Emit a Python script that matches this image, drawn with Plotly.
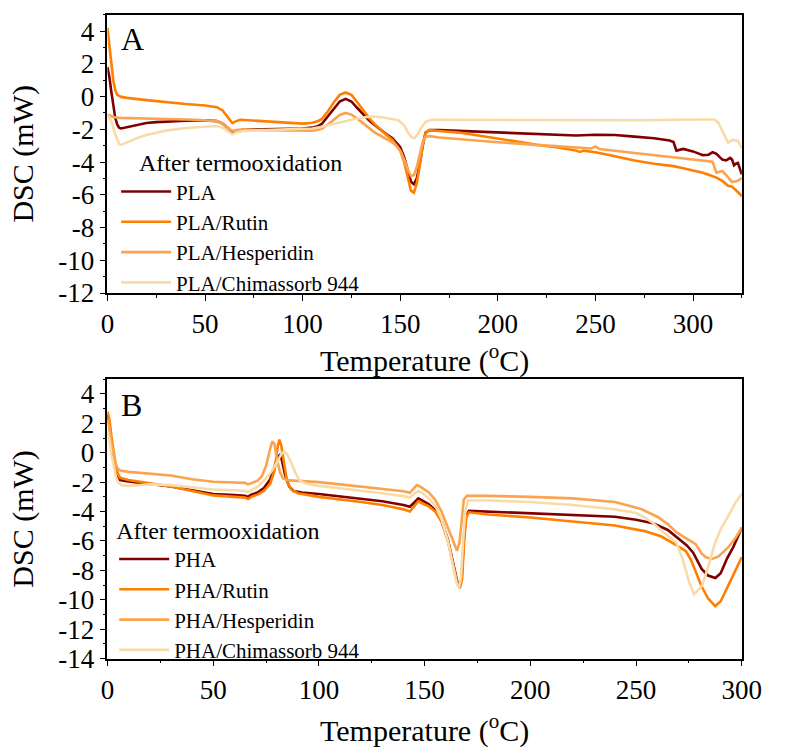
import plotly.graph_objects as go

# ---------------- Data (Temperature °C, DSC mW) ----------------
# Panel A (PLA)
PLA = [(0,1.8),(1,1.2),(2,0.3),(3,-0.6),(4,-1.3),(5,-1.7),(6,-1.9),(7,-1.95),(9,-1.9),(12,-1.8),
       (16,-1.7),(20,-1.62),(25,-1.56),(30,-1.52),(40,-1.48),(50,-1.45),(56,-1.5),(59,-1.65),(62,-1.95),
       (64,-2.22),(66,-2.15),(68,-2.05),(70,-2.0),(80,-2.0),(90,-1.98),(100,-1.95),(105,-1.9),(108,-1.8),
       (110,-1.65),(113,-1.2),(116,-0.7),(119,-0.3),(122,-0.14),(125,-0.3),(128,-0.7),(131,-1.1),
       (134,-1.45),(137,-1.75),(140,-2.05),(143,-2.3),(146,-2.55),(148,-2.8),(150,-3.1),(152,-3.7),
       (154,-4.6),(155.5,-5.2),(157,-5.35),(158.5,-5.0),(160,-4.1),(161.5,-3.0),(163,-2.2),(165,-2.05),
       (170,-2.05),(180,-2.1),(190,-2.15),(200,-2.2),(210,-2.25),(220,-2.3),(230,-2.35),(240,-2.38),
       (250,-2.33),(260,-2.35),(270,-2.45),(280,-2.55),(288,-2.68),(290,-2.78),(291.5,-3.3),(293,-3.25),
       (295,-3.2),(300,-3.35),(305,-3.58),(308,-3.55),(310,-3.4),(312,-3.5),(315,-3.85),(317,-3.9),
       (319,-3.75),(320,-3.85),(321,-4.2),(322,-4.1),(323,-4.05),(324,-4.4),(325,-4.75)]

PLA_RUTIN = [(0,4.2),(1,3.2),(2,2.0),(3,1.0),(4,0.4),(5,0.1),(7,-0.02),(10,-0.08),(20,-0.22),
             (30,-0.35),(40,-0.45),(50,-0.55),(56,-0.65),(59,-0.85),(62,-1.3),(64,-1.62),(66,-1.5),
             (68,-1.42),(72,-1.45),(80,-1.5),(90,-1.6),(100,-1.65),(105,-1.6),(108,-1.5),(110,-1.35),
             (113,-0.9),(116,-0.35),(119,0.1),(122,0.25),(125,0.1),(128,-0.35),(131,-0.85),(134,-1.3),
             (137,-1.7),(140,-2.05),(143,-2.35),(146,-2.65),(148,-2.95),(150,-3.3),(152,-4.0),(154,-5.1),
             (155.5,-5.75),(157,-5.87),(158.5,-5.3),(160,-4.2),(161.5,-3.0),(163,-2.2),(165,-2.05),
             (170,-2.1),(180,-2.2),(190,-2.38),(200,-2.55),(210,-2.75),(220,-2.95),(230,-3.1),
             (240,-3.3),(242,-3.38),(244,-3.3),(250,-3.4),(260,-3.65),(270,-3.9),(280,-4.1),(290,-4.25),
             (295,-4.38),(300,-4.5),(305,-4.65),(308,-4.78),(312,-4.95),(315,-5.15),(318,-5.45),
             (320,-5.5),(322,-5.7),(324,-5.95),(325,-6.1)]

PLA_HESP = [(0,-1.1),(3,-1.25),(6,-1.3),(15,-1.32),(30,-1.38),(45,-1.42),(56,-1.5),(59,-1.65),
            (62,-1.95),(64,-2.1),(66,-2.05),(70,-2.0),(80,-2.05),(90,-2.08),(100,-2.1),(105,-2.08),
            (108,-2.02),(110,-1.95),(113,-1.7),(116,-1.4),(119,-1.12),(122,-1.0),(125,-1.1),(128,-1.35),
            (131,-1.65),(134,-1.95),(137,-2.2),(140,-2.4),(143,-2.6),(146,-2.8),(148,-3.0),(150,-3.3),
            (152,-3.85),(154,-4.5),(155.5,-4.85),(157,-4.8),(158.5,-4.3),(160,-3.5),(161.5,-2.8),
            (163,-2.45),(165,-2.42),(170,-2.5),(180,-2.6),(190,-2.7),(200,-2.79),(220,-2.95),(240,-3.1),
            (248,-3.17),(250,-3.05),(252,-3.2),(270,-3.45),(288,-3.68),(300,-3.85),(310,-3.98),
            (312,-4.65),(315,-4.55),(317,-4.8),(320,-5.22),(323,-5.15),(325,-4.98)]

PLA_CHIM = [(0,-1.1),(2,-1.5),(4,-2.3),(6,-2.9),(7,-2.95),(9,-2.85),(12,-2.7),(16,-2.5),(20,-2.35),
            (25,-2.2),(30,-2.08),(40,-1.92),(50,-1.82),(56,-1.8),(59,-1.9),(62,-2.15),(64,-2.3),
            (66,-2.2),(70,-2.1),(80,-2.05),(90,-2.02),(100,-2.0),(105,-1.95),(110,-1.85),(115,-1.7),
            (120,-1.55),(125,-1.42),(130,-1.3),(135,-1.22),(140,-1.25),(145,-1.35),(149,-1.45),
            (152,-1.75),(154,-2.2),(156,-2.5),(157.5,-2.52),(159,-2.3),(161,-1.85),(163,-1.55),
            (166,-1.42),(175,-1.42),(200,-1.43),(225,-1.45),(250,-1.48),(275,-1.45),(300,-1.4),
            (311,-1.4),(313,-1.6),(315,-2.1),(317,-2.6),(318,-2.82),(320,-2.65),(323,-2.7),(325,-3.15)]

# Panel B (PHA)
PHA = [(0,2.6),(1,1.8),(2,0.6),(3,-0.4),(4,-1.1),(5,-1.6),(6,-1.85),(10,-1.95),(20,-2.1),(30,-2.3),
       (40,-2.55),(50,-2.8),(60,-2.88),(65,-2.92),(66.5,-3.0),(68,-2.85),(71,-2.7),(74,-2.4),(77,-1.8),
       (79,-1.0),(80.5,-0.3),(81.5,-0.15),(82.5,-0.5),(84,-1.5),(86,-2.3),(88,-2.6),(92,-2.7),
       (100,-2.8),(110,-2.95),(120,-3.1),(130,-3.3),(140,-3.55),(143,-3.67),(145,-3.4),(147,-3.1),
       (149,-3.25),(152,-3.5),(155,-3.9),(158,-4.6),(161,-5.9),(163.5,-7.5),(165.5,-8.8),(166.5,-9.1),
       (167.5,-8.5),(168.5,-6.0),(169.5,-4.3),(171,-3.95),(180,-4.0),(200,-4.15),(220,-4.25),
       (240,-4.35),(250,-4.55),(258,-4.8),(265,-5.25),(270,-5.8),(274,-6.3),(277,-6.8),(279,-7.3),
       (281,-7.9),(284,-8.35),(287.5,-8.52),(290,-8.2),(293,-7.2),(296,-6.4),(300,-5.1)]

PHA_RUTIN = [(0,2.8),(1,2.2),(2,1.0),(3,-0.1),(4,-0.9),(5,-1.45),(6,-1.7),(10,-1.85),(20,-2.05),
             (30,-2.3),(40,-2.6),(50,-2.9),(60,-3.0),(65,-3.05),(66.5,-3.15),(68,-3.0),(71,-2.85),
             (74,-2.6),(77,-2.1),(79,-1.2),(80.5,0.4),(81.3,0.9),(82.2,0.5),(83.5,-0.8),(85,-2.0),
             (87,-2.5),(90,-2.75),(100,-3.0),(110,-3.15),(120,-3.35),(130,-3.55),(140,-3.85),
             (143,-4.0),(145,-3.65),(147,-3.3),(149,-3.45),(152,-3.65),(155,-4.0),(158,-4.7),(161,-6.0),
             (163.5,-7.6),(165.5,-8.9),(166.7,-9.2),(167.7,-8.6),(168.7,-6.0),(169.7,-4.4),(171,-4.05),
             (180,-4.2),(200,-4.4),(220,-4.65),(240,-4.95),(254,-5.33),(262,-5.7),(268,-6.2),
             (273.6,-6.7),(276,-7.3),(278.2,-8.1),(281,-9.1),(284,-9.9),(287.4,-10.44),(290,-10.1),
             (293,-9.2),(296,-8.2),(300,-7.1)]

PHA_HESP = [(0,2.3),(1,1.6),(2,0.6),(3,-0.2),(4,-0.8),(5,-1.1),(6,-1.2),(10,-1.3),(20,-1.4),(30,-1.55),
            (40,-1.8),(50,-1.97),(60,-2.02),(65,-2.05),(66.5,-2.15),(68,-2.05),(71,-1.9),(73,-1.6),
            (75,-0.9),(77,0.3),(78,0.78),(79,0.6),(80,-0.3),(81.5,-1.3),(83,-1.75),(86,-1.88),(90,-1.9),
            (100,-2.0),(110,-2.15),(120,-2.3),(130,-2.45),(140,-2.62),(143,-2.72),(144.5,-2.45),
            (146.3,-2.2),(148.5,-2.35),(152,-2.7),(155,-3.2),(158,-4.0),(161,-5.1),(163.5,-6.1),
            (165.3,-6.67),(166.5,-6.1),(167.5,-4.5),(168.5,-3.2),(170,-2.93),(180,-2.93),(200,-3.0),
            (220,-3.1),(240,-3.35),(252,-3.8),(260,-4.35),(265,-4.85),(269,-5.4),(274,-5.85),
            (278.2,-6.22),(281,-6.85),(283,-7.11),(286,-7.22),(289,-7.05),(293.5,-6.44),(297,-5.8),
            (300,-5.1)]

PHA_CHIM = [(0,1.5),(1,0.8),(2,-0.2),(3,-1.0),(4,-1.6),(5,-2.0),(7,-2.22),(10,-2.25),(15,-2.2),
            (20,-2.15),(30,-2.2),(40,-2.35),(50,-2.5),(60,-2.55),(65,-2.58),(66.5,-2.68),(68,-2.55),
            (71,-2.3),(74,-1.9),(77,-1.4),(80,-0.7),(82,-0.15),(83.5,0.1),(85,-0.1),(87,-0.7),
            (89,-1.4),(91,-1.9),(94,-2.1),(100,-2.25),(110,-2.4),(120,-2.55),(130,-2.75),(140,-2.95),
            (143,-3.05),(145,-2.8),(147,-2.6),(149,-2.75),(152,-3.1),(155,-3.6),(158,-4.5),(161,-6.0),
            (163.5,-7.8),(165.2,-8.9),(166.2,-9.18),(167.2,-8.5),(168.2,-6.0),(169.2,-4.0),(170.5,-3.25),
            (180,-3.25),(200,-3.35),(220,-3.55),(240,-3.85),(250,-4.1),(254,-4.4),(258,-4.78),
            (263,-5.4),(269,-6.1),(272,-7.2),(275,-8.77),(277.4,-9.62),(279,-9.4),(281.3,-9.0),
            (284,-7.8),(287.4,-6.1),(290,-5.2),(293.5,-4.33),(297,-3.4),(300,-2.78)]

NAMES_A = ["PLA", "PLA/Rutin", "PLA/Hesperidin", "PLA/Chimassorb 944"]
NAMES_B = ["PHA", "PHA/Rutin", "PHA/Hesperidin", "PHA/Chimassorb 944"]
COLORS = ["#800000", "#ff7f00", "#fba44f", "#f8dba6"]
X_TICKS_A = [0, 50, 100, 150, 200, 250, 300]
X_TICKS_B = [0, 50, 100, 150, 200, 250, 300]
Y_TICKS_A = list(range(-12, 5, 2))
Y_TICKS_B = list(range(-14, 5, 2))

FONT = "Liberation Serif"

fig = go.Figure()

for name, data, col in zip(NAMES_A, [PLA, PLA_RUTIN, PLA_HESP, PLA_CHIM], COLORS):
    fig.add_trace(go.Scatter(x=[p[0] for p in data], y=[p[1] for p in data], mode="lines",
                             name=name, line=dict(color=col, width=2.6),
                             xaxis="x", yaxis="y", legend="legend"))
for name, data, col in zip(NAMES_B, [PHA, PHA_RUTIN, PHA_HESP, PHA_CHIM], COLORS):
    fig.add_trace(go.Scatter(x=[p[0] for p in data], y=[p[1] for p in data], mode="lines",
                             name=name, line=dict(color=col, width=2.6),
                             xaxis="x2", yaxis="y2", legend="legend2"))

W, H = 785, 751
xdom = [104 / W, 761 / W]
ydomA = [(H - 299) / H, (H - 15) / H]
ydomB = [(H - 672) / H, (H - 387) / H]

axis_common = dict(showline=True, linecolor="black", linewidth=1.5, mirror=True,
                   ticks="outside", ticklen=6, tickwidth=1.3, tickcolor="black",
                   showgrid=False, zeroline=False,
                   tickfont=dict(family=FONT, size=27, color="black"))

title_xA = dict(text="Temperature (<sup>o</sup>C)", font=dict(family=FONT, size=30, color="black"),
                standoff=4)
title_xB = dict(text="Temperature (<sup>o</sup>C)", font=dict(family=FONT, size=30, color="black"),
                standoff=16)
title_y = dict(text="DSC (mW)", font=dict(family=FONT, size=30, color="black"), standoff=16)

fig.update_layout(
    width=W, height=H, margin=dict(l=0, r=0, t=0, b=0),
    paper_bgcolor="white", plot_bgcolor="white",
    font=dict(family=FONT, color="black"),
    xaxis=dict(domain=xdom, anchor="y", range=[0, 325], tickvals=X_TICKS_A,
               ticktext=[str(v) for v in X_TICKS_A],
               minor=dict(ticks="outside", ticklen=3, dtick=25, tick0=0, tickcolor="black"),
               title=title_xA, **axis_common),
    yaxis=dict(domain=ydomA, anchor="x", range=[-12, 5], tickvals=Y_TICKS_A,
               ticktext=[str(v) for v in Y_TICKS_A],
               minor=dict(ticks="outside", ticklen=3, dtick=1, tick0=0, tickcolor="black"),
               title=title_y, **axis_common),
    xaxis2=dict(domain=xdom, anchor="y2", range=[0, 300], tickvals=X_TICKS_B,
                ticktext=[str(v) for v in X_TICKS_B],
                minor=dict(ticks="outside", ticklen=3, dtick=25, tick0=0, tickcolor="black"),
                title=title_xB, **axis_common),
    yaxis2=dict(domain=ydomB, anchor="x2", range=[-14, 5], tickvals=Y_TICKS_B,
                ticktext=[str(v) for v in Y_TICKS_B],
                minor=dict(ticks="outside", ticklen=3, dtick=1, tick0=0, tickcolor="black"),
                title=title_y, **axis_common),
    legend=dict(x=113 / W, y=(H - 143) / H, xanchor="left", yanchor="top",
                bgcolor="rgba(0,0,0,0)", borderwidth=0, itemwidth=50,
                font=dict(family=FONT, size=21, color="black"),
                title=dict(text="After termooxidation", side="top center",
                           font=dict(family=FONT, size=24, color="black"))),
    legend2=dict(x=111 / W, y=(H - 518) / H, xanchor="left", yanchor="top",
                 bgcolor="rgba(0,0,0,0)", borderwidth=0, itemwidth=50,
                 font=dict(family=FONT, size=21, color="black"),
                 title=dict(text="After termooxidation", side="top",
                            font=dict(family=FONT, size=24, color="black"))),
    showlegend=True,
    annotations=[
        dict(text="A", x=116 / W, y=(H - 40) / H, xref="paper", yref="paper",
             xanchor="left", yanchor="middle", showarrow=False,
             font=dict(family=FONT, size=32, color="black")),
        dict(text="B", x=116 / W, y=(H - 413) / H, xref="paper", yref="paper",
             xanchor="left", yanchor="middle", showarrow=False,
             font=dict(family=FONT, size=32, color="black")),
    ],
)

fig.write_html("out.html")
